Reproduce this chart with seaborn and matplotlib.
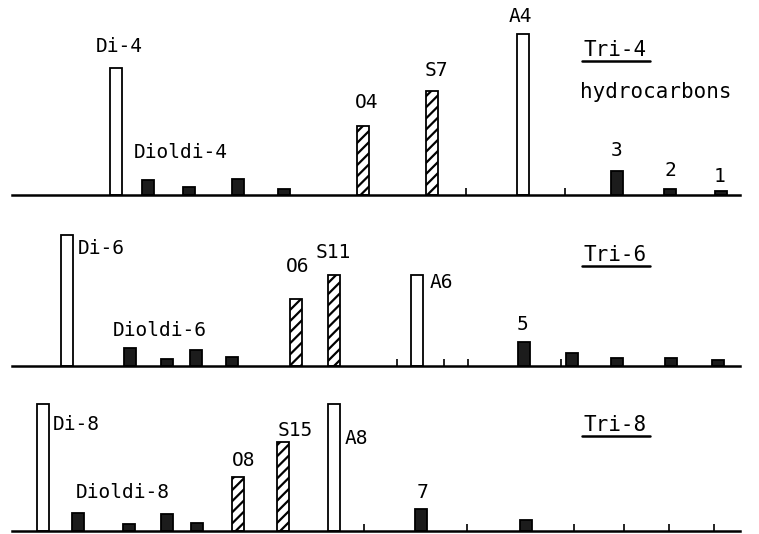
import numpy as np
import pandas as pd
import matplotlib
matplotlib.use("Agg")
import matplotlib.pyplot as plt
import seaborn as sns

sns.set_style("white")
plt.rcParams['font.family'] = ['DejaVu Sans Mono', 'DejaVu Sans']
plt.rcParams['text.color'] = 'black'
plt.rcParams['hatch.linewidth'] = 1.6

# elution position (arbitrary units) and peak height for each panel
pos_4 = [116, 148, 189, 238, 284, 363, 432, 523, 617, 670, 721]
height_4 = [127, 15, 8, 16, 6, 69, 104, 161, 24, 6, 4]
kind_4 = ['open', 'solid', 'solid', 'solid', 'solid', 'hatched', 'hatched',
          'open', 'solid', 'solid', 'solid']
ticks_4 = [466, 565]

pos_6 = [67, 130, 167, 196, 232, 296, 334, 417, 524, 572, 617, 671, 718]
height_6 = [131, 18, 7, 16, 9, 67, 91, 91, 24, 13, 8, 8, 6]
kind_6 = ['open', 'solid', 'solid', 'solid', 'solid', 'hatched', 'hatched',
          'open', 'solid', 'solid', 'solid', 'solid', 'solid']
ticks_6 = [397, 444, 468, 561]

pos_8 = [43, 78, 129, 167, 197, 238, 283, 334, 421, 526]
height_8 = [127, 18, 7, 17, 8, 54, 89, 127, 22, 11]
kind_8 = ['open', 'solid', 'solid', 'solid', 'solid', 'hatched', 'hatched',
          'open', 'solid', 'solid']
ticks_8 = [364, 467, 574, 624, 669, 714]

# peak labels: (text, x, height, alignment)
labels_4 = [('Di-4', 119, 148, 'center'), ('Dioldi-4', 181, 42, 'center'),
            ('O4', 367, 92, 'center'), ('S7', 436, 125, 'center'),
            ('A4', 520, 179, 'center'), ('3', 617, 45, 'center'),
            ('2', 670, 25, 'center'), ('1', 720, 19, 'center')]
labels_6 = [('Di-6', 78, 118, 'left'), ('Dioldi-6', 160, 36, 'center'),
            ('O6', 298, 100, 'center'), ('S11', 333, 113, 'center'),
            ('A6', 430, 83, 'left'), ('5', 523, 41, 'center')]
labels_8 = [('Di-8', 53, 106, 'left'), ('Dioldi-8', 123, 39, 'center'),
            ('O8', 244, 71, 'center'), ('S15', 295, 100, 'center'),
            ('A8', 345, 93, 'left'), ('7', 422, 39, 'center')]

titles = ['Tri-4', 'Tri-6', 'Tri-8']

W, H = 759, 534
fig = plt.figure(figsize=(W / 100, H / 100), dpi=100)

# baseline pixel row and panel height for each panel
panels = [
    (pos_4, height_4, kind_4, ticks_4, labels_4, 195, 195),
    (pos_6, height_6, kind_6, ticks_6, labels_6, 366, 171),
    (pos_8, height_8, kind_8, ticks_8, labels_8, 531, 165),
]
x0, x1 = 12, 740
bar_w = 11.5
palette = {'open': 'white', 'hatched': 'white', 'solid': '#1c1c1c'}

for i, (pos, hgt, kind, ticks, labels, base, ph) in enumerate(panels):
    ax = fig.add_axes([x0 / W, (H - base) / H, (x1 - x0) / W, ph / H])
    ax.set_facecolor('none')
    df = pd.DataFrame({'pos': pos, 'height': hgt, 'kind': kind})
    native = np.diff(np.sort(df['pos'].unique())).min()
    sns.barplot(data=df, x='pos', y='height', hue='kind', palette=palette,
                native_scale=True, dodge=False, width=bar_w / native,
                saturation=1, errorbar=None, legend=False,
                edgecolor='black', linewidth=1.3, ax=ax)
    hatched = df.loc[df['kind'] == 'hatched', 'pos'].values
    for p in ax.patches:
        cx = p.get_x() + p.get_width() / 2
        if np.any(np.abs(hatched - cx) < 1):
            p.set_hatch('///')
    ax.set_xlim(x0, x1)
    ax.set_ylim(0, ph)
    ax.set_xlabel('')
    ax.set_ylabel('')
    ax.set_yticks([])
    ax.set_xticks(ticks)
    ax.set_xticklabels([])
    ax.tick_params(axis='x', direction='in', length=5, width=1.2,
                   bottom=True, color='black')
    for s in ['top', 'left', 'right']:
        ax.spines[s].set_visible(False)
    ax.spines['bottom'].set_linewidth(1.8)
    ax.spines['bottom'].set_color('black')

    for txt, x, y, ha in labels:
        ax.text(x, y, txt, ha=ha, va='center', fontsize=14, clip_on=False)

    # panel title with underline
    ty = [145, 111, 106][i]
    ax.text(615, ty, titles[i], ha='center', va='center', fontsize=15,
            clip_on=False)
    ax.plot([582, 650], [ty - 11, ty - 11], color='black', lw=1.8,
            clip_on=False)
    if i == 0:
        ax.text(656, 103, 'hydrocarbons', ha='center', va='center',
                fontsize=15, clip_on=False)

fig.savefig('out.png', dpi=100)
